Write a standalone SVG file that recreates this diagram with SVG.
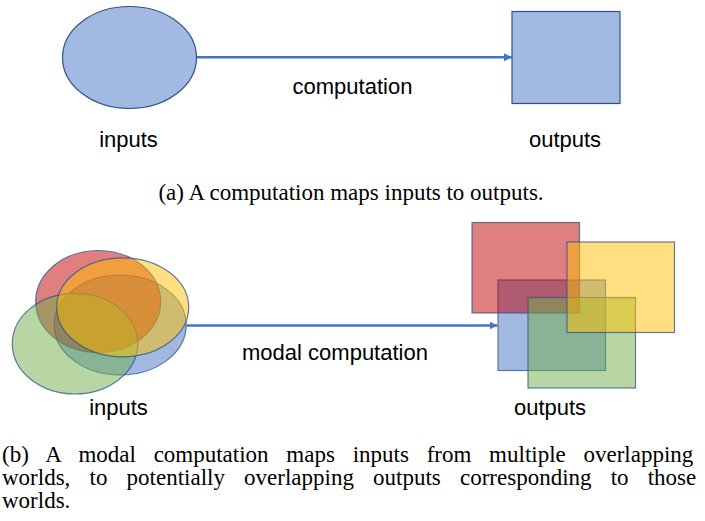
<svg xmlns="http://www.w3.org/2000/svg" width="705" height="521" viewBox="0 0 705 521">
<style>
.lbl{font-family:"Liberation Sans",Arial,sans-serif;font-size:22px;fill:#000;text-anchor:middle}
.cap{font-family:"Liberation Serif","Times New Roman",serif;font-size:23px;fill:#000}
.edge{stroke:#4472C4;stroke-width:2.5;fill:none}
.solid{fill:#A2B9E1;stroke:#2F528F;stroke-width:1.2}
.tr{fill-opacity:0.5;stroke:#2F528F;stroke-width:1.2;stroke-opacity:0.75}
.blue{fill:#4472C4}
.red{fill:#C00000}
.green{fill:#70AD47}
.yellow{fill:#FFC000}
</style>
<defs>
<marker id="ah" markerUnits="userSpaceOnUse" markerWidth="9" markerHeight="9" refX="8" refY="4" orient="auto">
<path d="M0,0 L8,4 L0,8 z" fill="#4472C4"/>
</marker>
</defs>

<!-- (a) -->
<g id="inputs-a">
<ellipse class="solid" cx="129.5" cy="57.5" rx="67" ry="51"/>
<text class="lbl" x="128.5" y="147">inputs</text>
</g>
<g id="outputs-a">
<rect class="solid" x="512" y="11.5" width="108" height="92"/>
<text class="lbl" x="565" y="147">outputs</text>
</g>

<!-- (b) -->
<g id="inputs-b">
<ellipse class="tr blue" cx="120.2" cy="325" rx="66" ry="50"/>
<ellipse class="tr red" cx="98.2" cy="301.5" rx="62.5" ry="51"/>
<ellipse class="tr green" cx="75" cy="343.7" rx="62.7" ry="50.3"/>
<ellipse class="tr yellow" cx="122.7" cy="307.3" rx="66" ry="49.5"/>
<text class="lbl" x="118.5" y="415">inputs</text>
</g>
<g id="outputs-b">
<rect class="tr blue" x="498" y="280" width="107.5" height="90.5"/>
<rect class="tr red" x="472" y="222.5" width="107.5" height="90.5"/>
<rect class="tr green" x="528" y="297.5" width="107.5" height="90.5"/>
<rect class="tr yellow" x="567" y="242" width="107.5" height="90.5"/>
<text class="lbl" x="550" y="415">outputs</text>
</g>

<g id="connectors">
<line class="edge" x1="197" y1="57.3" x2="512" y2="57.3" marker-end="url(#ah)"/>
<text class="lbl" x="352.5" y="94">computation</text>
<line class="edge" x1="186.5" y1="325.5" x2="497.5" y2="325.5" marker-end="url(#ah)"/>
<text class="lbl" x="335" y="360">modal computation</text>
</g>

<g id="captions">
<text class="cap" x="351" y="200" text-anchor="middle">(a) A computation maps inputs to outputs.</text>
<text class="cap" x="2" y="462" word-spacing="12">(b) A modal computation maps inputs from multiple overlapping</text>
<text class="cap" x="2" y="485" word-spacing="13.4">worlds, to potentially overlapping outputs corresponding to those</text>
<text class="cap" x="2" y="508">worlds.</text>
</g>
</svg>
